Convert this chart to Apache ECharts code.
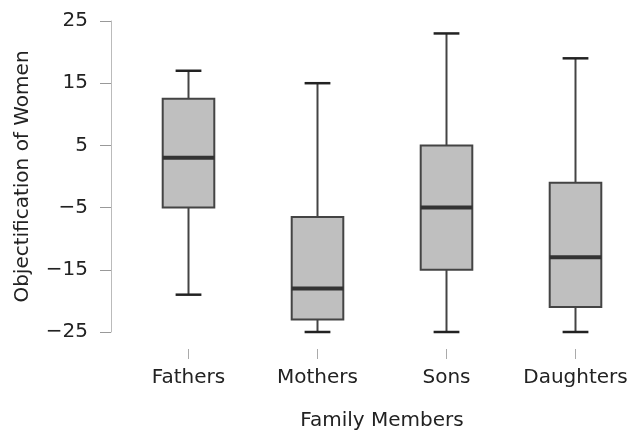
<!DOCTYPE html>
<html>
<head>
<meta charset="utf-8">
<script src="https://cdn.jsdelivr.net/npm/echarts@6/dist/echarts.min.js"></script>
<style>
  html, body { margin: 0; padding: 0; background: #fff; }
  #chart { width: 640px; height: 436px; }
</style>
</head>
<body>
<div id="chart"></div>
<script>
// --- data ---
const categories = ['Fathers', 'Mothers', 'Sons', 'Daughters'];
const whiskerLow = [-19, -25, -25, -25];
const q1 = [-5, -23, -15, -21];
const medians = [3, -18, -5, -13];
const q3 = [12.5, -6.5, 5, -1];
const whiskerHigh = [17, 15, 23, 19];
const yTicks = [-25, -15, -5, 5, 15, 25];

const FONT = '"DejaVu Sans", sans-serif';
const TEXT = '#222';

const boxData = categories.map((c, i) => [i, whiskerLow[i], q1[i], medians[i], q3[i], whiskerHigh[i]]);

// box, median and half-width whisker caps drawn through the axis scales
function renderBox(params, api) {
  const idx = api.value(0);
  const band = api.size([1, 0])[0];
  const boxW = band * 0.4;
  const capW = band * 0.2;
  const pLow = api.coord([idx, api.value(1)]);
  const pQ1 = api.coord([idx, api.value(2)]);
  const pMed = api.coord([idx, api.value(3)]);
  const pQ3 = api.coord([idx, api.value(4)]);
  const pHigh = api.coord([idx, api.value(5)]);
  const cx = pMed[0];
  const lineStyle = { stroke: '#444', lineWidth: 2, fill: null };
  return {
    type: 'group',
    children: [
      { type: 'line', shape: { x1: cx, y1: pQ3[1], x2: cx, y2: pHigh[1] }, style: lineStyle },
      { type: 'line', shape: { x1: cx, y1: pQ1[1], x2: cx, y2: pLow[1] }, style: lineStyle },
      { type: 'line', shape: { x1: cx - capW / 2, y1: pHigh[1], x2: cx + capW / 2, y2: pHigh[1] }, style: { stroke: '#222', lineWidth: 2.5 } },
      { type: 'line', shape: { x1: cx - capW / 2, y1: pLow[1], x2: cx + capW / 2, y2: pLow[1] }, style: { stroke: '#222', lineWidth: 2.5 } },
      {
        type: 'rect',
        shape: { x: cx - boxW / 2, y: pQ3[1], width: boxW, height: pQ1[1] - pQ3[1] },
        style: { fill: '#bfbfbf', stroke: '#444', lineWidth: 2 }
      },
      { type: 'line', shape: { x1: cx - boxW / 2, y1: pMed[1], x2: cx + boxW / 2, y2: pMed[1] }, style: { stroke: '#333', lineWidth: 4 } }
    ]
  };
}

const chart = echarts.init(document.getElementById('chart'), null, { renderer: 'canvas' });

chart.setOption({
  backgroundColor: '#fff',
  animation: false,
  grid: { left: 124, top: 21, width: 521, height: 312 },
  xAxis: {
    type: 'category',
    data: categories,
    offset: 17,
    axisLine: { show: false, onZero: false },
    axisTick: { show: true, interval: 0, alignWithLabel: true, length: 10, lineStyle: { color: '#aaa', width: 1 } },
    axisLabel: { color: TEXT, fontFamily: FONT, fontSize: 20, margin: 19, interval: 0, hideOverlap: false },
    splitLine: { show: false },
    name: 'Family Members',
    nameLocation: 'middle',
    nameGap: 62,
    nameTextStyle: { color: TEXT, fontFamily: FONT, fontSize: 20 }
  },
  yAxis: {
    type: 'value',
    min: yTicks[0],
    max: yTicks[yTicks.length - 1],
    interval: 10,
    offset: 13,
    axisLine: { show: true, lineStyle: { color: '#bbb', width: 1 } },
    axisTick: { show: true, length: 11, lineStyle: { color: '#999', width: 1 } },
    axisLabel: {
      color: TEXT, fontFamily: FONT, fontSize: 20, margin: 23,
      formatter: v => String(v).replace('-', '\u2212')
    },
    splitLine: { show: false },
    name: 'Objectification of Women',
    nameLocation: 'middle',
    nameGap: 78,
    nameTextStyle: { color: TEXT, fontFamily: FONT, fontSize: 20 }
  },
  series: [{
    type: 'custom',
    renderItem: renderBox,
    encode: { x: 0, y: [1, 2, 3, 4, 5] },
    data: boxData,
    clip: false
  }]
});
</script>
</body>
</html>
